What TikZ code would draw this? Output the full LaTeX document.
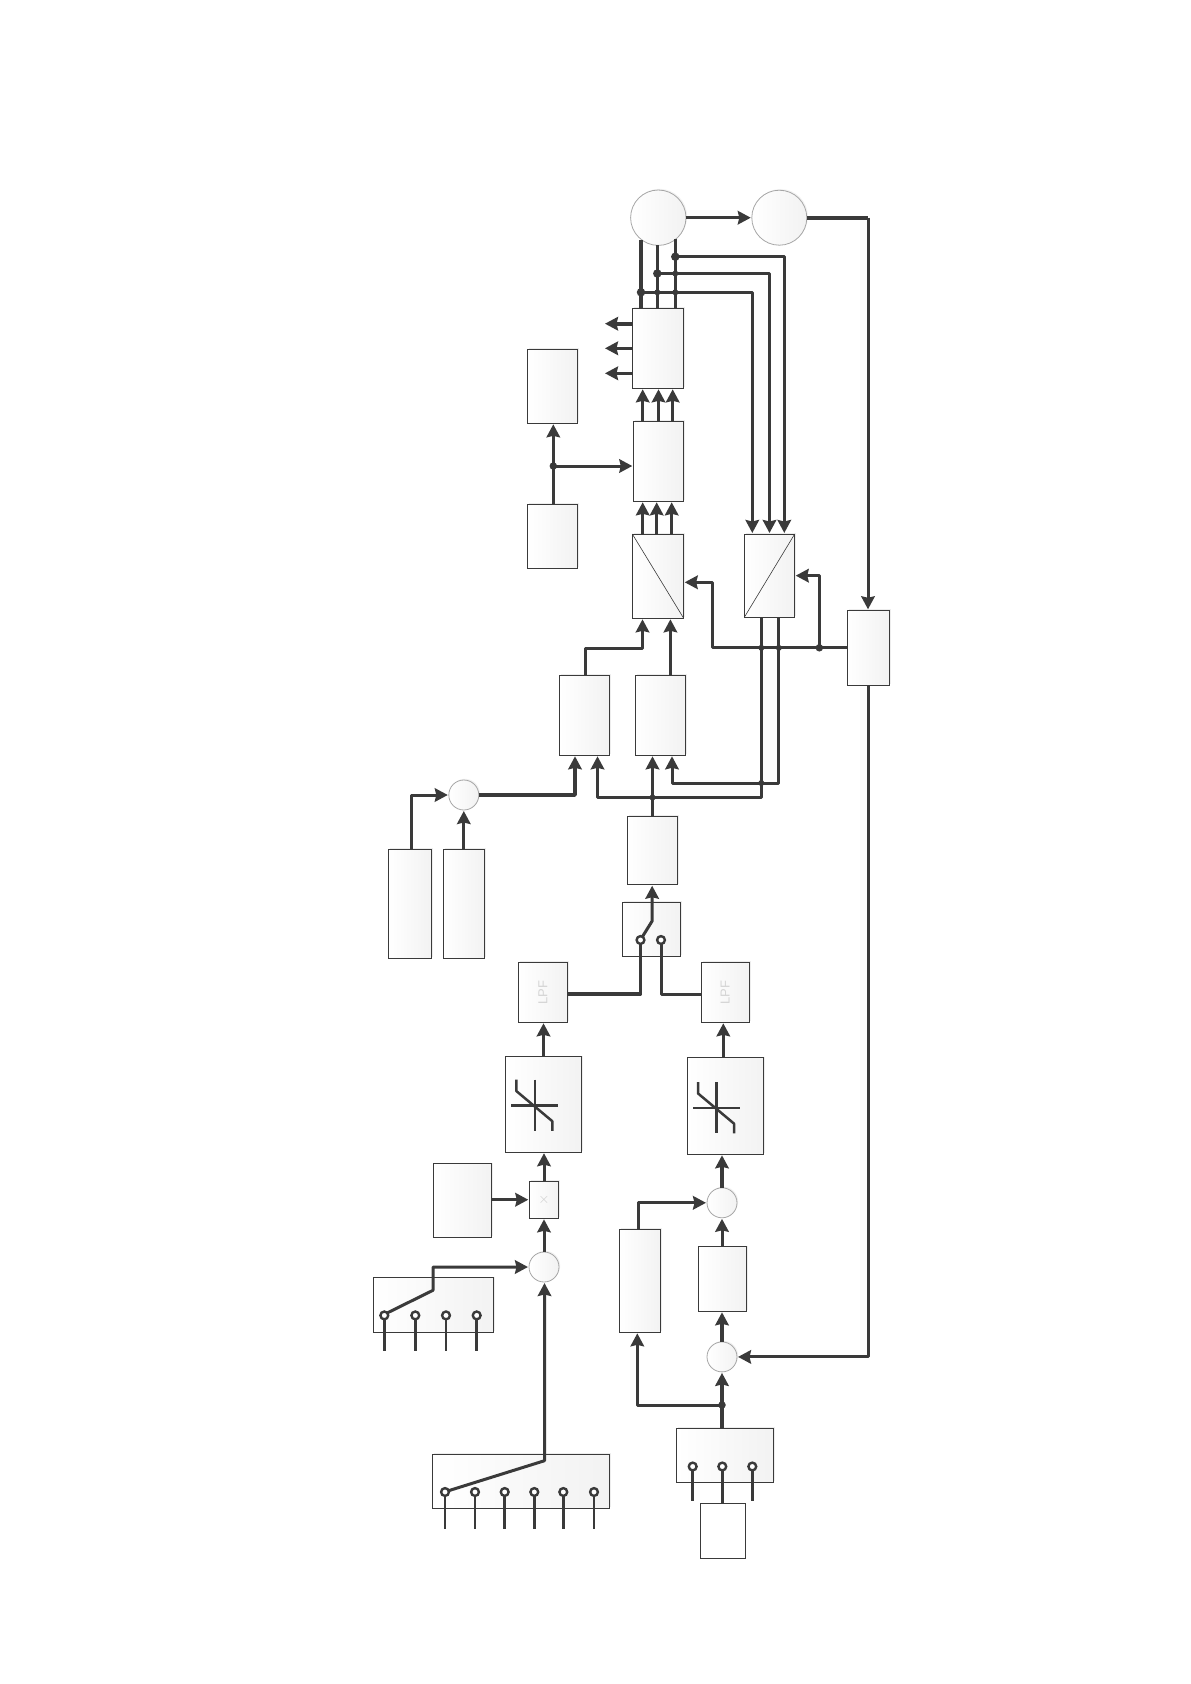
\documentclass[tikz,border=0pt]{standalone}
\usepackage{fontspec}
\setmainfont{Liberation Sans}
\usetikzlibrary{arrows.meta,shadows,calc}
\definecolor{ink}{HTML}{3A3A3A}
\tikzset{
  blockbox/.style={rectangle,draw=ink,line width=0.9pt,inner sep=0pt,outer sep=0pt,left color=white,right color=black!5,
    general shadow={shadow xshift=1.6pt,shadow yshift=1.2pt,fill=black!7}},
  plainbox/.style={rectangle,draw=ink,line width=0.9pt,inner sep=0pt,outer sep=0pt,fill=white},
  sumcirc/.style={circle,draw=black!35,line width=0.8pt,inner sep=0pt,outer sep=0pt,left color=white,right color=black!5,
    general shadow={shadow xshift=1.2pt,shadow yshift=1.2pt,fill=black!5}},
  wire/.style={draw=ink,line width=3pt,line join=round},
  thickwire/.style={wire,line width=3.9pt},
  thinwire/.style={wire,line width=2.6pt},
  arr/.style={wire,-{Stealth[length=13pt,width=13.5pt,inset=1.5pt]},shorten >=1pt},
  thickarr/.style={arr,line width=3.8pt},
  bigdot/.style={circle,fill=ink,inner sep=0pt,minimum size=8.5pt},
  smalldot/.style={circle,fill=ink,inner sep=0pt,minimum size=6pt},
  ring/.style={circle,draw=ink,line width=2.4pt,fill=white,inner sep=0pt,outer sep=0pt,minimum size=7.8pt},
  faint/.style={text=black!17,font=\fontsize{13}{13}\selectfont},
}
% block given by its corners
\newcommand\blk[6][blockbox]{%
  \pgfmathsetmacro\bw{#5-#3}\pgfmathsetmacro\bh{#6-#4}%
  \node[#1,minimum width=\bw pt,minimum height=\bh pt] (#2) at ({(#3+#5)/2},{(#4+#6)/2}) {};}
% straight arrow going up from block #1 to block #2, shifted by #3 from the centre of #1
\newcommand\upa[4][arr]{\draw[#1] ([xshift=#4pt]#2.north) -- ([xshift=#4pt]#2.north |- #3.south);}
\newcommand\nlsym[3]{%
  \coordinate (#1o) at (#2,#3);
  \draw[wire,line width=2.5pt] ($(#1o)+(0,-25.8)$) -- ($(#1o)+(0,25.5)$);
  \draw[wire,line width=2.5pt] ($(#1o)+(-23.7,0)$) -- ($(#1o)+(23,0)$);
  \draw[wire,line width=2.5pt] ($(#1o)+(-18.7,-25.8)$) -- ($(#1o)+(-18.7,-14.4)$) -- ($(#1o)+(17.3,15.8)$) -- ($(#1o)+(17.3,25.5)$);}
\begin{document}
\begin{tikzpicture}[x=1pt,y=-1pt]
\useasboundingbox (0,0) rectangle (1191,1684);
% circles
\node[sumcirc,minimum size=55.4pt] (M1) at (658.3,217.7) {};
\node[sumcirc,minimum size=55pt] (M2) at (779.3,217.7) {};
\node[sumcirc,minimum size=30pt] (S) at (463.8,795) {};
\node[sumcirc,minimum size=30pt] (S1) at (544,1267) {};
\node[sumcirc,minimum size=30pt] (S2) at (722,1202.8) {};
\node[sumcirc,minimum size=30pt] (S3) at (722,1356.9) {};
% blocks
\blk{top}{632.3}{308}{683.7}{388.3}
\blk{mid}{633.3}{421}{683.7}{501.3}
\blk{invL}{632.3}{534}{683.7}{618.3}
\blk{invR}{744.3}{534}{794.7}{617.3}
\blk{A}{527.3}{349}{577.7}{423.3}
\blk{B}{527.3}{504}{577.7}{568.3}
\blk{R}{847}{610.3}{889}{685.3}
\blk{C1}{559.3}{675}{609.5}{755.3}
\blk{C2}{635}{675}{685.5}{755.3}
\blk{D}{627}{816.3}{677.3}{884.7}
\blk{E}{388.2}{849}{431.6}{958.3}
\blk{F}{443.3}{849}{484.6}{958.3}
\blk{SW}{622.2}{902}{680.4}{956.3}
\blk{LPFa}{518.3}{962.3}{567.5}{1022.3}
\blk{LPFb}{701}{962.3}{749.2}{1022.3}
\blk{NLa}{505.3}{1056.9}{581.7}{1152.2}
\blk{NLb}{687.3}{1057.9}{763.7}{1154.3}
\blk{MUL}{529.3}{1181.1}{558.7}{1218.3}
\blk{G}{433.3}{1163.9}{491.7}{1237.2}
\blk{H}{373.3}{1277.9}{493.7}{1332.3}
\blk{J}{432.3}{1454}{609.7}{1508.2}
\blk{K}{619.3}{1229}{660.7}{1332.3}
\blk{L}{698.3}{1246.9}{746.7}{1311.3}
\blk{M}{676.3}{1428}{773.7}{1482}
\blk[plainbox]{N}{700.3}{1503}{745.3}{1558}
% box diagonals
\draw[ink,line width=0.6pt] (invL.north west) -- (invL.south east);
\draw[ink,line width=0.6pt] (invR.north east) -- (invR.south west);
% faint labels
\node[faint,rotate=90] (lpfatext) at (LPFa) {LPF};
\node[faint,rotate=90] (lpfbtext) at (LPFb) {LPF};
\node[text=black!20,font=\fontsize{14}{14}\selectfont] (multext) at (MUL) {$\times$};
% junctions
\node[bigdot] (j1) at (641,292.3) {};
\node[bigdot] (j2) at (657.3,273.5) {};
\node[bigdot] (j3) at (675.3,256.7) {};
\node[smalldot] (x1) at (657.3,292.3) {};
\node[smalldot] (x2) at (675.3,292.3) {};
\node[smalldot] (x3) at (675.3,273.5) {};
\node[bigdot,minimum size=7.5pt] (jb) at (553.3,466) {};
\node[smalldot] (jq1) at (761.3,647.8) {};
\node[smalldot] (jq2) at (778.8,647.8) {};
\node[bigdot,minimum size=7.5pt] (jq3) at (819.3,647.8) {};
\node[smalldot] (jq4) at (761.3,783) {};
\node[smalldot] (jd) at (652.5,797.5) {};
\node[bigdot,minimum size=7.5pt] (jm) at (722,1405) {};
% motor to transformation blocks
\draw[thickwire] (M1.-128.7) -- (M1.-128.7 |- top.north);
\draw[wire] (M1.-90) ++(-1,0) -- (j2.center) -- (j2.center |- top.north);
\draw[wire] (M1.-51.7) -- (M1.-51.7 |- top.north);
\draw[arr] (j1.center) -| ([xshift=-17.2pt]invR.north);
\draw[arr] (j2.center) -| (invR.north);
\draw[arr] (j3.center) -| ([xshift=14.8pt]invR.north);
\draw[arr] (M1.east) -- (M2.west);
\draw[thickwire] (M2.east) -- (M2.east -| R.north);
\draw[arr] (M2.east -| R.north) -- (R.north);
% top block outputs
\coordinate (o1) at (604,323.7);
\coordinate (o2) at (604,348.3);
\coordinate (o3) at (604,373.3);
\draw[thickarr] (o1 -| top.west) -- (o1);
\draw[arr] (o2 -| top.west) -- (o2);
\draw[arr] (o3 -| top.west) -- (o3);
% stacks
\upa{mid}{top}{-15.8}
\upa{mid}{top}{0}
\upa{mid}{top}{14.2}
\upa{invL}{mid}{-15.3}
\upa{invL}{mid}{-1.3}
\upa{invL}{mid}{13.7}
\upa{B}{A}{0.8}
\draw[arr] (jb.center) -- (jb.center -| mid.west);
% feedback around the transforms
\coordinate (c1) at (712.3,647.8);
\draw[arr] (R.west) -- (c1) |- ([yshift=-6.15pt]invL.east);
\draw[arr] (jq3.center) |- (invR.east);
\coordinate (b1) at (761.3,797.5);
\coordinate (b2) at (778.8,783);
\draw[arr] ([xshift=-8.2pt]invR.south) -- (b1) -| ([xshift=13.1pt]C1.south);
\draw[arr] ([xshift=9.3pt]invR.south) -- (b2) -| ([xshift=11.75pt]C2.south);
\coordinate (c2) at (585,648.3);
\draw[arr] ([xshift=0.6pt]C1.north) -- (c2) -| ([xshift=-15.5pt]invL.south);
\upa{C2}{invL}{10.15}
\upa{D}{C2}{0.35}
% reference sum
\draw[thickarr] (S.east) -| ([xshift=-9.4pt]C1.south);
\draw[arr] ([xshift=1.4pt]E.north) |- (S.west);
\upa{F}{S}{-0.15}
% output switch
\node[ring] (sa) at (640.5,940) {};
\node[ring] (sb) at (661,940) {};
\coordinate (sk) at (652.15,921);
\draw[arr] (sa.60) -- (sk) -- (sk |- D.south);
\draw[thickwire] (sa.south) |- ([yshift=-1.7pt]LPFa.east);
\draw[wire] (sb.south) |- ([yshift=-1.7pt]LPFb.west);
\upa{NLa}{LPFa}{0}
\upa{NLb}{LPFb}{-2.2}
% limiter symbols
\nlsym{na}{535}{1105.4}
\nlsym{nb}{716.7}{1107.8}
% left chain
\upa{MUL}{NLa}{0}
\draw[arr] (S1.north) -- (S1.north |- MUL.south);
\draw[arr] (G.east |- MUL.west) -- (MUL.west);
% left selector (four way)
\node[ring] (ha) at (384.3,1315.4) {};
\node[ring] (hb) at (415.3,1315.4) {};
\node[ring] (hc) at (446,1315.4) {};
\node[ring] (hd) at (476.7,1315.4) {};
\draw[wire] (ha.south) -- ++(0,32);
\draw[thinwire] (hb.south) -- ++(0,32);
\draw[thinwire] (hc.south) -- ++(0,32);
\draw[wire] (hd.south) -- ++(0,32);
\coordinate (hk) at (433,1290.3);
\draw[arr] (ha.40) -- (hk) |- (S1.west);
% lower selector (six way)
\node[ring] (ja) at (445,1492) {};
\node[ring] (jb2) at (475,1492) {};
\node[ring] (jc) at (504.7,1492) {};
\node[ring] (jd2) at (534.3,1492) {};
\node[ring] (je) at (563.3,1492) {};
\node[ring] (jf) at (594,1492) {};
\foreach \c in {ja,jb2,jc,jd2,je,jf} {\draw[thinwire] (\c.south) -- ++(0,32.8);}
\coordinate (jk) at (544.5,1460.7);
\draw[arr] (ja.20) -- (jk) -- (jk |- S1.south);
% right chain
\draw[thickarr] (S2.north) -- (S2.north |- NLb.south);
\upa{L}{S2}{-0.5}
\upa[thickarr]{S3}{L}{0}
\draw[arr] ([xshift=-2pt]K.north) |- (S2.west);
\draw[thickarr] ([xshift=-3pt]M.north) -- ([xshift=-3pt]M.north |- S3.south);
\draw[arr] (jm.center) -| ([xshift=-2.7pt]K.south);
\draw[arr] (R.south) |- (S3.east);
% bottom selector (three way)
\node[ring] (ma) at (692.7,1466.5) {};
\node[ring] (mb) at (722.3,1466.5) {};
\node[ring] (mc) at (752.3,1466.5) {};
\draw[thinwire] (ma.south) -- ++(0,31);
\draw[wire] (mb.south) -- (mb.south |- N.north);
\draw[thinwire] (mc.south) -- ++(0,31);
\end{tikzpicture}
\end{document}
